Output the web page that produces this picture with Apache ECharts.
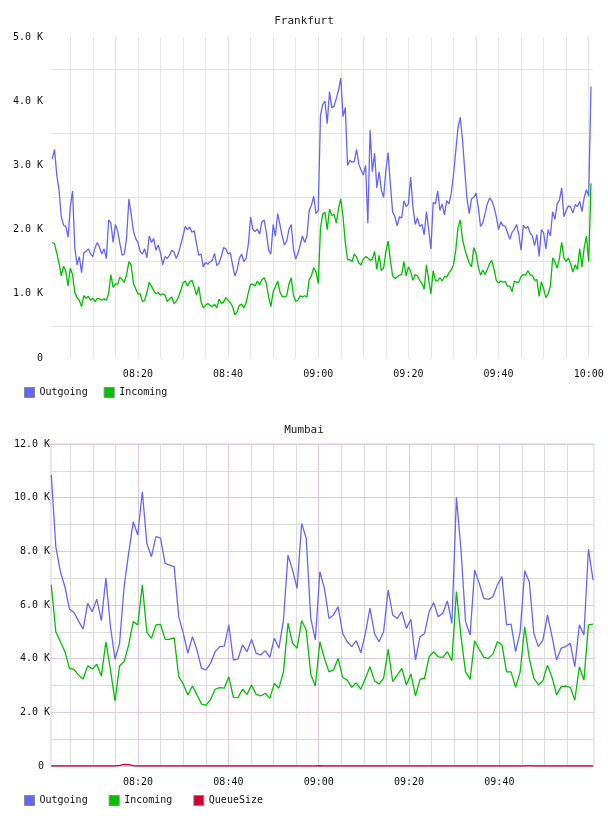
<!DOCTYPE html>
<html>
<head>
<meta charset="utf-8">
<script src="https://cdn.jsdelivr.net/npm/echarts@6/dist/echarts.min.js"></script>
<style>
	html, body { margin: 0; padding: 0; background: #fff; }
	#chart { width: 608px; height: 816px; }
</style>
</head>
<body>
<div id="chart"></div>
<script>
// x values are minutes after 08:00
var axisMin = 0.72, axisMax = 120.95;
var fiveMinTicks = [5, 10, 15, 20, 25, 30, 35, 40, 45, 50, 55, 60, 65, 70, 75, 80, 85, 90, 95, 100, 105, 110, 115, 120];
var frankfurtTimeLabels = [20, 40, 60, 80, 100, 120];
var mumbaiMajorTicks = [20, 40, 60, 80, 100];
var mumbaiMinorTicks = [5, 10, 15, 25, 30, 35, 45, 50, 55, 65, 70, 75, 85, 90, 95, 105, 110, 115];

var frankfurtStart = 1, frankfurtStep = 0.5;
var frankfurtOutgoing = [
	3100, 3250, 2850, 2620, 2200, 2070, 2050, 1880, 2350, 2600,
	1720, 1450, 1580, 1330, 1640, 1660, 1700, 1620, 1580, 1720,
	1800, 1720, 1620, 1700, 1550, 2150, 2100, 1800, 2080, 1980,
	1780, 1600, 1620, 1880, 2480, 2240, 1980, 1860, 1800, 1660,
	1620, 1700, 1560, 1900, 1800, 1860, 1680, 1760, 1640, 1450,
	1580, 1550, 1600, 1680, 1650, 1550, 1630, 1770, 1900, 2050,
	2000, 2040, 1960, 1980, 1780, 1600, 1620, 1420, 1490, 1460,
	1500, 1520, 1630, 1440, 1480, 1580, 1720, 1700, 1620, 1640,
	1450, 1280, 1370, 1550, 1620, 1500, 1550, 1780, 2200, 2000,
	1970, 2010, 1930, 2120, 2150, 1950, 1680, 1620, 2080, 1900,
	2250, 2080, 1900, 1760, 1820, 2000, 2080, 1700, 1540, 1630,
	1760, 1900, 1800, 1900, 2300, 2380, 2520, 2250, 2300, 3780,
	3950, 4000, 3650, 4150, 3900, 3920, 4040, 4170, 4360, 3760,
	3900, 3000, 3080, 3050, 3060, 3250, 3020, 2930, 2850, 3000,
	2100, 3550, 2900, 3190, 2650, 2900, 2620, 2500, 2920, 3200,
	2700, 2280, 2200, 2060, 2200, 2180, 2450, 2360, 2400, 2820,
	2360, 2080, 2180, 2050, 2080, 1920, 2280, 2000, 1700, 2420,
	2400, 2600, 2300, 2400, 2230, 2450, 2400, 2560, 2850, 3220,
	3580, 3750, 3400, 2920, 2480, 2250, 2480, 2500, 2570, 2350,
	2050, 2100, 2250, 2400, 2490, 2450, 2350, 2200, 2000, 2120,
	2060, 2050, 1950, 1850, 1960, 2000, 2080, 1920, 1680, 2070,
	2020, 2050, 1950, 1900, 1750, 1920, 1580, 2000, 1950, 1700,
	2000, 1900, 2280, 2160, 2400, 2460, 2650, 2200, 2300, 2370,
	2350, 2260, 2390, 2360, 2440, 2280, 2500, 2620, 2520, 4230
];
var frankfurtIncoming = [
	1800, 1780, 1630, 1480, 1280, 1430, 1350, 1120, 1400, 1300,
	1020, 940, 900, 800, 970, 930, 960, 900, 930, 880,
	930, 920, 900, 920, 900, 1000, 1300, 1100, 1150, 1150,
	1260, 1220, 1180, 1300, 1500, 1450, 1160, 1080, 1000, 1000,
	880, 900, 1020, 1180, 1120, 1050, 1000, 1020, 980, 1000,
	980, 880, 920, 950, 850, 880, 950, 1050, 1170, 1200,
	1120, 1190, 1210, 1100, 980, 1110, 880, 780, 820, 850,
	820, 800, 840, 780, 920, 850, 870, 940, 900, 860,
	800, 670, 720, 820, 840, 780, 860, 1020, 1150, 1150,
	1120, 1200, 1140, 1220, 1250, 1160, 950, 800, 1030, 1110,
	1200, 1030, 960, 950, 970, 1150, 1250, 980, 880, 900,
	970, 950, 970, 950, 1220, 1280, 1410, 1340, 1160, 2020,
	2240, 2270, 2000, 2320, 2220, 2240, 2100, 2330, 2480, 2200,
	1800, 1530, 1530, 1500, 1620, 1570, 1480, 1450, 1540, 1580,
	1560, 1520, 1540, 1660, 1380, 1600, 1360, 1400, 1660, 1820,
	1520, 1280, 1240, 1260, 1290, 1300, 1500, 1280, 1420, 1350,
	1210, 1300, 1280, 1210, 1160, 1070, 1450, 1220, 1000, 1360,
	1200, 1200, 1250, 1200, 1270, 1260, 1330, 1370, 1450, 1680,
	2030, 2150, 1850, 1700, 1580, 1480, 1420, 1720, 1630, 1420,
	1290, 1370, 1300, 1380, 1470, 1520, 1380, 1210, 1170, 1200,
	1180, 1190, 1120, 1120, 1030, 1200, 1180, 1180, 1270, 1300,
	1290, 1360, 1300, 1280, 1210, 1220, 960, 1190, 1080, 940,
	1000, 1120, 1560, 1500, 1400, 1550, 1800, 1560, 1500, 1560,
	1460, 1340, 1450, 1380, 1700, 1420, 1720, 1900, 1500, 2720
];

var mumbaiStart = 0.78, mumbaiStep = 1.008;
var mumbaiOutgoing = [
	10850, 8170, 7240, 6680, 5850, 5720, 5400, 5100, 6060, 5750,
	6220, 5420, 7000, 5200, 3980, 4570, 6680, 7930, 9100, 8610,
	10220, 8290, 7800, 8550, 8490, 7550, 7490, 7430, 5560, 4940,
	4200, 4820, 4320, 3640, 3580, 3830, 4260, 4450, 4470, 5260,
	3950, 3980, 4510, 4260, 4720, 4200, 4140, 4300, 4050, 4760,
	4390, 5440, 7860, 7300, 6620, 9040, 8490, 5500, 4700, 7240,
	6620, 5500, 5630, 5940, 4940, 4630, 4450, 4670, 4220, 4940,
	5880, 4940, 4630, 5000, 6560, 5630, 5500, 5750, 5130, 5470,
	3950, 4820, 4940, 5750, 6090, 5560, 5690, 6150, 5320, 10010,
	8050, 5380, 4880, 7300, 6810, 6250, 6210, 6310, 6750, 7060,
	5260, 5290, 4260, 5000, 7270, 6870, 4940, 4450, 4700, 5630,
	4820, 3950, 4390, 4450, 4570, 3700, 5260, 4880, 8080, 6930
];
var mumbaiIncoming = [
	6750, 5000, 4630, 4260, 3640, 3600, 3390, 3240, 3730, 3620,
	3790, 3350, 4630, 3580, 2430, 3730, 3890, 4510, 5380, 5260,
	6750, 4980, 4760, 5260, 5280, 4720, 4720, 4780, 3330, 3050,
	2650, 2980, 2650, 2310, 2270, 2480, 2860, 2920, 2900, 3330,
	2560, 2550, 2860, 2670, 3020, 2670, 2610, 2710, 2520, 3080,
	2900, 3510, 5320, 4570, 4390, 5420, 5070, 3420, 2980, 4630,
	4010, 3510, 3580, 4010, 3300, 3200, 2930, 3100, 2860, 3270,
	3700, 3180, 3060, 3270, 4350, 3140, 3390, 3640, 3020, 3430,
	2610, 3230, 3270, 4070, 4260, 4070, 4050, 4260, 3920, 6500,
	4820, 3510, 3230, 4670, 4350, 4050, 4010, 4170, 4630, 4510,
	3510, 3510, 2930, 3510, 5190, 4010, 3270, 3020, 3180, 3760,
	3300, 2650, 2960, 2980, 2930, 2460, 3700, 3200, 5260, 5290
];
var mumbaiQueueSize = [
	0, 0, 0, 0, 0, 0, 0, 0, 0, 0,
	0, 0, 0, 0, 0, 20, 60, 50, 10, 0,
	0, 0, 0, 0, 0, 0, 0, 0, 0, 0,
	0, 0, 0, 0, 0, 0, 0, 0, 0, 0,
	0, 0, 0, 0, 0, 0, 0, 0, 0, 0,
	0, 0, 0, 0, 0, 0, 0, 0, 0, 10,
	0, 0, 0, 0, 0, 0, 0, 0, 0, 0,
	0, 0, 0, 0, 5, 0, 0, 0, 0, 0,
	0, 0, 0, 0, 0, 0, 0, 0, 0, 0,
	0, 0, 0, 0, 0, 0, 0, 0, 0, 0,
	0, 0, 0, 0, 0, 15, 0, 0, 0, 0,
	0, 0, 0, 0, 0, 0, 0, 0, 0, 0
];

var mono = 'DejaVu Sans Mono';
var colorOut = '#6666ff', colorIn = '#00c000', colorQueue = '#cc0033';
var gridGray = '#e6e6e6', mumbaiGray = '#dcdcdc', mumbaiPink = '#e3c8e3';

function toPairs(values, start, step) {
	return values.map(function (v, i) { return [start + i * step, v]; });
}

function pad(n) { return (n < 10 ? '0' : '') + n; }

function timeLabel(m) {
	var t = Math.round(m);
	return pad(8 + Math.floor(t / 60)) + ':' + pad(t % 60);
}

function kLabel(v, zeroText) {
	if (v === 0) return zeroText;
	return (v / 1000).toFixed(1) + ' K';
}

function lineSeries(name, color, xi, yi, data) {
	return {
		name: name,
		type: 'line',
		xAxisIndex: xi,
		yAxisIndex: yi,
		data: data,
		color: color,
		showSymbol: false,
		lineStyle: { width: 1.3, color: color },
		emphasis: { disabled: true }
	};
}

var labelStyle = { fontFamily: mono, fontSize: 10, color: '#111' };
var titleStyle = { fontFamily: mono, fontSize: 11, fontWeight: 'normal', color: '#222' };

var option = {
	animation: false,
	backgroundColor: '#fff',
	title: [
		{ text: 'Frankfurt', left: 'center', top: 11, textStyle: titleStyle },
		{ text: 'Mumbai', left: 'center', top: 420, textStyle: titleStyle }
	],
	legend: [
		{
			data: ['Outgoing', 'Incoming'], left: 19, top: 382, icon: 'rect',
			itemWidth: 10, itemHeight: 10, itemGap: 16,
			itemStyle: { borderColor: '#888', borderWidth: 1 },
			textStyle: labelStyle
		},
		{
			data: ['Outgoing', 'Incoming', 'QueueSize'], left: 19, top: 790, icon: 'rect',
			itemWidth: 10, itemHeight: 10, itemGap: 21,
			itemStyle: { borderColor: '#888', borderWidth: 1 },
			textStyle: labelStyle
		}
	],
	grid: [
		{ left: 51, right: 15, top: 37, bottom: 458 },
		{ left: 51, right: 14, top: 444, bottom: 50, show: true, borderColor: mumbaiPink, borderWidth: 1, backgroundColor: 'transparent' }
	],
	xAxis: [
		{
			gridIndex: 0, type: 'value', position: 'bottom', min: axisMin, max: axisMax,
			axisLine: { show: false },
			axisTick: { show: false, customValues: fiveMinTicks },
			splitLine: { show: true, lineStyle: { color: gridGray } },
			axisLabel: Object.assign({ customValues: frankfurtTimeLabels, formatter: timeLabel, margin: 11 }, labelStyle)
		},
		{
			gridIndex: 1, type: 'value', position: 'bottom', min: axisMin, max: axisMax,
			axisLine: { show: false },
			axisTick: { show: false, customValues: mumbaiMinorTicks },
			splitLine: { show: true, lineStyle: { color: mumbaiGray } },
			axisLabel: { show: false }
		},
		{
			gridIndex: 1, type: 'value', position: 'bottom', offset: 0, min: axisMin, max: axisMax,
			axisLine: { show: false },
			axisTick: { show: false, customValues: mumbaiMajorTicks },
			splitLine: { show: true, lineStyle: { color: mumbaiPink } },
			axisLabel: Object.assign({ customValues: mumbaiMajorTicks, formatter: timeLabel, margin: 11 }, labelStyle)
		}
	],
	yAxis: [
		{
			gridIndex: 0, type: 'value', min: 0, max: 5000, interval: 1000,
			axisLine: { show: false }, axisTick: { show: false },
			splitLine: { show: false },
			minorTick: { show: false, splitNumber: 2 },
			minorSplitLine: { show: true, lineStyle: { color: gridGray } },
			axisLabel: Object.assign({ margin: 8, formatter: function (v) { return kLabel(v, '0'); } }, labelStyle)
		},
		{
			gridIndex: 1, type: 'value', min: 0, max: 12000, interval: 2000,
			axisLine: { show: false }, axisTick: { show: false },
			splitLine: { show: true, lineStyle: { color: mumbaiPink } },
			minorTick: { show: false, splitNumber: 2 },
			minorSplitLine: { show: true, lineStyle: { color: mumbaiGray } },
			axisLabel: Object.assign({ margin: 1, formatter: function (v) { return kLabel(v, '0 '); } }, labelStyle)
		}
	],
	series: [
		lineSeries('Outgoing', colorOut, 0, 0, toPairs(frankfurtOutgoing, frankfurtStart, frankfurtStep)),
		lineSeries('Incoming', colorIn, 0, 0, toPairs(frankfurtIncoming, frankfurtStart, frankfurtStep)),
		lineSeries('Outgoing', colorOut, 1, 1, toPairs(mumbaiOutgoing, mumbaiStart, mumbaiStep)),
		lineSeries('Incoming', colorIn, 1, 1, toPairs(mumbaiIncoming, mumbaiStart, mumbaiStep)),
		lineSeries('QueueSize', colorQueue, 1, 1, toPairs(mumbaiQueueSize, mumbaiStart, mumbaiStep))
	]
};

var myChart = echarts.init(document.getElementById('chart'));
myChart.setOption(option);
</script>
</body>
</html>
